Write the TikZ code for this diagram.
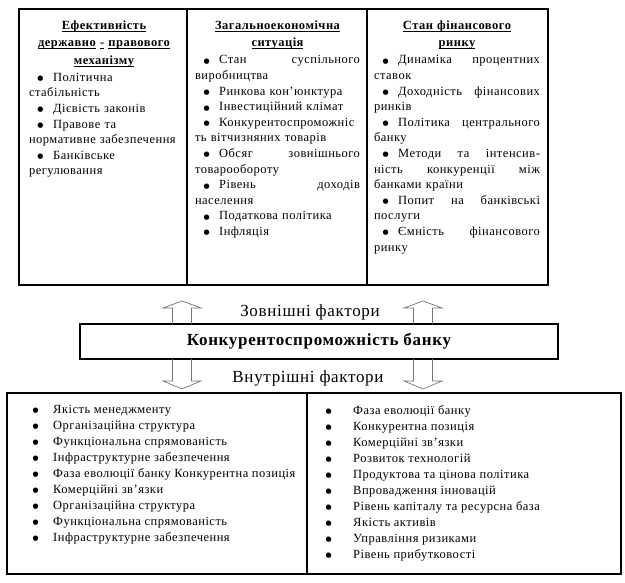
\documentclass[tikz,border=0pt]{standalone}
\usepackage{fontspec}
\setmainfont[LetterSpace=4]{Liberation Serif}
\newfontfamily\dotfont{DejaVu Sans}
\usepackage{tikz}
\usetikzlibrary{positioning}
\newsavebox{\ulbox}
\newcommand{\uln}[1]{\leavevmode\sbox\ulbox{#1}\rlap{\rule[-1.7pt]{\wd\ulbox}{0.55pt}}\usebox\ulbox}
\newcommand{\bigdot}{\raisebox{0.6pt}{\dotfont\fontsize{7}{0}\selectfont ●}}
\newcommand{\bul}{\hspace*{8.5pt}\bigdot\hspace{9.5pt}}
\newcommand{\itemdot}[1]{\makebox[#1][l]{\bigdot}}

\begin{document}
\begin{tikzpicture}[x=1pt,y=-1pt,
	frame/.style={draw,line width=1.1pt},
	headtext/.style={font=\bfseries\fontsize{12.5}{17.5}\selectfont,align=center,inner sep=0pt,anchor=north},
	listtext/.style={font=\fontsize{12.5}{15.6}\selectfont,align=left,inner sep=0pt},
	innerlist/.style={font=\fontsize{12.5}{16}\selectfont,align=left,inner sep=0pt,anchor=north west},
	factor/.style={font=\fontsize{17}{20}\selectfont,inner sep=0pt},
	flow/.style={draw=black!55,line width=0.7pt,line join=miter}]
	
	\useasboundingbox (0,0) rectangle (625,583);
	
	% outer factors
	\draw[frame] (19,9) rectangle (548,285);
	\draw[frame] (187,9) -- (187,285);
	\draw[frame] (367,9) -- (367,285);
	
	\node[headtext,text width=150] (HA) at (104,20.5)
	{\uln{Ефективність}\\\uln{державно} \uln{-} \uln{правового}\\\uln{механізму}};
	
	\node[headtext,text width=165] (HB) at (277.5,20.5)
	{\uln{Загальноекономічна}\\\uln{ситуація}};
	
	\node[headtext,text width=166] (HC) at (457,20.5)
	{\uln{Стан фінансового}\\\uln{ринку}};
	
	\node[listtext,text width=150] (LA)
	[below=5.6pt of HA]
	{\bul Політична\\стабільність\\
		\bul Дієвість законів\\
		\bul Правове та\\нормативне забезпечення\\
		\bul Банківське\\регулювання};
	
	\node[listtext,text width=165] (LB)
	[below=5.6pt of HB]
	{\bul Стан\hfill суспільного\\виробництва\\
		\bul Ринкова кон’юнктура\\
		\bul Інвестиційний клімат\\
		\bul Конкурентоспроможніс\\ть вітчизняних товарів\\
		\bul Обсяг\hfill зовнішнього\\товарообороту\\
		\bul Рівень\hfill доходів\\населення\\
		\bul Податкова політика\\
		\bul Інфляція};
	
	\node[listtext,text width=166] (LC)
	[below=5.6pt of HC]
	{\bul Динаміка\hfill процентних\\ставок\\
		\bul Доходність\hfill фінансових\\ринків\\
		\bul Політика\hfill центрального\\банку\\
		\bul Методи\hfill та\hfill інтенсив-\\ність\hfill конкуренції\hfill між\\банками країни\\
		\bul Попит\hfill на\hfill банківські\\послуги\\
		\bul Ємність\hfill фінансового\\ринку};
	
	% bank
	\node[frame,minimum width=478,minimum height=35,font=\bfseries\fontsize{17}{20}\selectfont] (K)
	at (319,341.5) {Конкурентоспроможність банку};
	
	\node[factor] (Z) at (310,312) {Зовнішні фактори};
	\node[factor] (V) at (308,378) {Внутрішні фактори};
	
	\foreach \c in {182,423} {
		\draw[flow] (\c-9.5,324) -- (\c-9.5,308) -- (\c-19,308) -- (\c,301)
		-- (\c+19,308) -- (\c+9.5,308) -- (\c+9.5,324);
		\draw[flow] (\c-9.5,359) -- (\c-9.5,381) -- (\c-19,381) -- (\c,389)
		-- (\c+19,381) -- (\c+9.5,381) -- (\c+9.5,359);
	}
	
	% inner factors
	\draw[frame] (7,393) rectangle (621,574);
	\draw[frame] (307,393) -- (307,574);
	
	\node[innerlist] (L) at (32.5,405)
	{\itemdot{20.5pt}Якість менеджменту\\
		\itemdot{20.5pt}Організаційна структура\\
		\itemdot{20.5pt}Функціональна спрямованість\\
		\itemdot{20.5pt}Інфраструктурне забезпечення\\
		\itemdot{20.5pt}Фаза еволюції банку Конкурентна позиція\\
		\itemdot{20.5pt}Комерційні зв’язки\\
		\itemdot{20.5pt}Організаційна структура\\
		\itemdot{20.5pt}Функціональна спрямованість\\
		\itemdot{20.5pt}Інфраструктурне забезпечення};
	
	\node[innerlist] (R) at (325.5,405)
	{\itemdot{27.5pt}Фаза еволюції банку\\
		\itemdot{27.5pt}Конкурентна позиція\\
		\itemdot{27.5pt}Комерційні зв’язки\\
		\itemdot{27.5pt}Розвиток технологій\\
		\itemdot{27.5pt}Продуктова та цінова політика\\
		\itemdot{27.5pt}Впровадження інновацій\\
		\itemdot{27.5pt}Рівень капіталу та ресурсна база\\
		\itemdot{27.5pt}Якість активів\\
		\itemdot{27.5pt}Управління ризиками\\
		\itemdot{27.5pt}Рівень прибутковості};
	
\end{tikzpicture}
\end{document}
